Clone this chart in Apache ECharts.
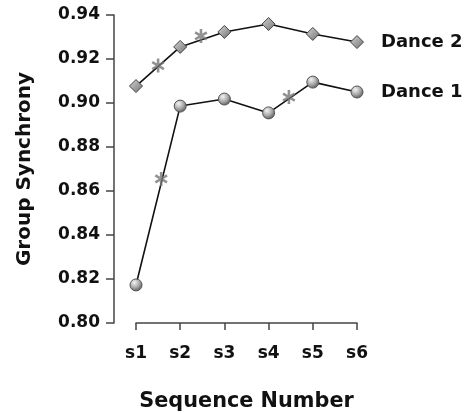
<!DOCTYPE html>
<html><head><meta charset="utf-8">
<script src="https://cdn.jsdelivr.net/npm/echarts@6/dist/echarts.min.js"></script>
<style>html,body{margin:0;padding:0;background:#fff}#c{width:466px;height:413px}</style>
</head><body><div id="c"></div>
<script>
const categories = ['s1', 's2', 's3', 's4', 's5', 's6'];
const yTicks = [0.80, 0.82, 0.84, 0.86, 0.88, 0.90, 0.92, 0.94];
const dance1 = [0.8173, 0.8986, 0.9018, 0.8955, 0.9095, 0.9050];
const dance2 = [0.9077, 0.9255, 0.9323, 0.9359, 0.9314, 0.9277];
const star1X = [1.57, 4.46];
const star1Y = [0.8655, 0.9027];
const star2X = [1.50, 2.47];
const star2Y = [0.9170, 0.9305];

const FONT = 'DejaVu Sans';
const starPath = 'path://M-1.9,-10L1.9,-10L1.9,10L-1.9,10Z' +
  'M-9.61,-3.355L-7.71,-6.645L9.61,3.355L7.71,6.645Z' +
  'M-7.71,6.645L-9.61,3.355L7.71,-6.645L9.61,-3.355Z';

const circleFill = new echarts.graphic.RadialGradient(0.38, 0.32, 0.7, [
  {offset: 0, color: '#f4f4f4'}, {offset: 0.55, color: '#a8a8a8'}, {offset: 1, color: '#5a5a5a'}
]);
const diamondFill = new echarts.graphic.LinearGradient(0, 0, 1, 1, [
  {offset: 0, color: '#d8d8d8'}, {offset: 1, color: '#6e6e6e'}
]);

const xy = (xs, ys) => xs.map((x, i) => [x, ys[i]]);
const idx = arr => arr.map((v, i) => [i + 1, v]);

const chart = echarts.init(document.getElementById('c'), null, {renderer: 'canvas'});
chart.setOption({
  animation: false,
  backgroundColor: '#fff',
  grid: {left: 136, right: 109, top: 15, bottom: 90, outerBoundsMode: 'none', containLabel: false},
  xAxis: {
    type: 'value', min: 1, max: 6, interval: 1,
    name: 'Sequence Number', nameLocation: 'middle', nameGap: 68,
    nameTextStyle: {fontFamily: FONT, fontWeight: 'bold', fontSize: 20.8, color: '#111'},
    axisLine: {show: true, lineStyle: {color: '#444', width: 1.5}},
    axisTick: {show: true, length: 7, lineStyle: {color: '#444', width: 1.5}},
    axisLabel: {margin: 22, fontFamily: FONT, fontWeight: 'bold', fontSize: 17, color: '#111',
      formatter: v => categories[Math.round(v) - 1] || ''},
    splitLine: {show: false}
  },
  yAxis: {
    type: 'value', min: yTicks[0], max: yTicks[yTicks.length - 1], interval: 0.02,
    offset: 22,
    name: 'Group Synchrony', nameLocation: 'middle', nameGap: 79,
    nameTextStyle: {fontFamily: FONT, fontWeight: 'bold', fontSize: 20, color: '#111'},
    axisLine: {show: true, lineStyle: {color: '#444', width: 1.5}},
    axisTick: {show: true, length: 8, lineStyle: {color: '#444', width: 1.5}},
    axisLabel: {margin: 14, fontFamily: FONT, fontWeight: 'bold', fontSize: 17, color: '#111',
      formatter: v => v.toFixed(2)},
    splitLine: {show: false}
  },
  series: [
    {
      name: 'Dance 2', type: 'line', data: idx(dance2),
      symbol: 'diamond', symbolSize: 13,
      lineStyle: {color: '#111', width: 1.6},
      itemStyle: {color: diamondFill, borderColor: '#444', borderWidth: 1},
      endLabel: {show: true, formatter: '{a}', distance: 24,
        fontFamily: FONT, fontWeight: 'bold', fontSize: 18, color: '#111'},
      z: 3
    },
    {
      name: 'Dance 1', type: 'line', data: idx(dance1),
      symbol: 'circle', symbolSize: 12,
      lineStyle: {color: '#111', width: 1.6},
      itemStyle: {color: circleFill, borderColor: '#555', borderWidth: 1},
      endLabel: {show: true, formatter: '{a}', distance: 24,
        fontFamily: FONT, fontWeight: 'bold', fontSize: 18, color: '#111'},
      z: 3
    },
    {
      name: 'sig2', type: 'scatter', data: xy(star2X, star2Y),
      symbol: starPath, symbolSize: [13, 14], itemStyle: {color: '#777'}, z: 4
    },
    {
      name: 'sig1', type: 'scatter', data: xy(star1X, star1Y),
      symbol: starPath, symbolSize: [13, 14], itemStyle: {color: '#777'}, z: 4
    }
  ]
});
</script>
</body></html>
